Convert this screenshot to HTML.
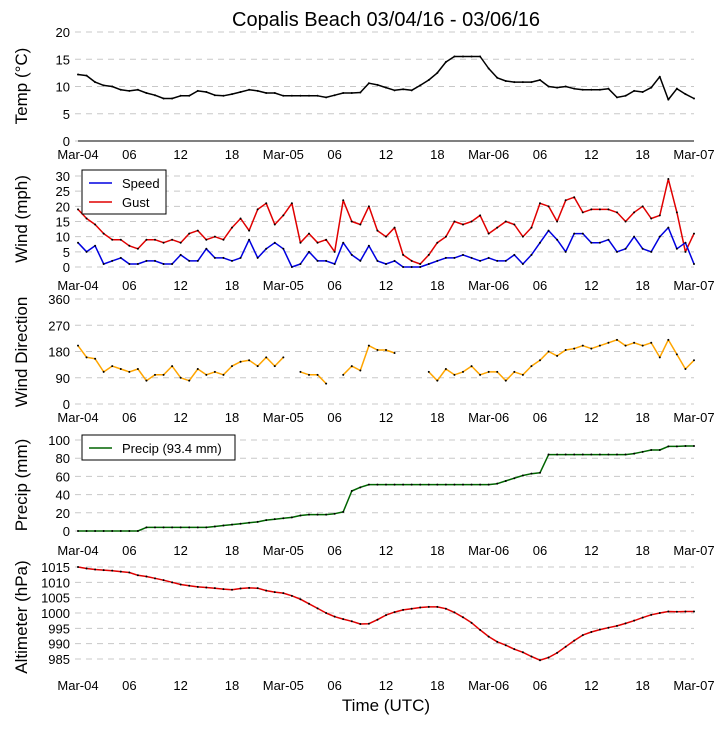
<!DOCTYPE html>
<html><head><meta charset="utf-8"><style>
body{margin:0;background:#fff;}
svg text{font-family:"Liberation Sans","DejaVu Sans",sans-serif;fill:#000;}
</style></head><body>
<svg id="c" width="726" height="725" xmlns="http://www.w3.org/2000/svg"></svg>
<script>
const xTickLabels=["Mar-04","06","12","18","Mar-05","06","12","18","Mar-06","06","12","18","Mar-07"];
const temp=[12.2,12,10.8,10.2,10,9.4,9.2,9.4,8.8,8.4,7.8,7.8,8.3,8.3,9.2,9.0,8.4,8.3,8.6,9.0,9.4,9.2,8.8,8.8,8.3,8.3,8.3,8.3,8.3,8.0,8.4,8.8,8.8,8.9,10.6,10.3,9.8,9.3,9.5,9.3,10.2,11.2,12.5,14.5,15.5,15.5,15.5,15.5,13.3,11.6,11.0,10.8,10.8,10.8,11.2,10.0,9.8,10.0,9.6,9.4,9.4,9.4,9.6,8.0,8.3,9.2,9.0,9.8,11.8,7.6,9.6,8.6,7.8];
const gust=[19,16,14,11,9,9,7,6,9,9,8,9,8,11,12,9,10,9,13,16,12,19,21,14,17,21,8,11,8,9,5,22,15,14,20,12,10,13,4,2,1,4,8,10,15,14,15,17,11,13,15,14,10,13,21,20,15,22,23,18,19,19,19,18,15,18,20,16,17,29,18,5,11];
const speed=[8,5,7,1,2,3,1,1,2,2,1,1,4,2,2,6,3,3,2,3,9,3,6,8,6,0,1,5,2,2,1,8,4,2,7,2,1,2,0,0,0,1,2,3,3,4,3,2,3,2,2,4,1,4,8,12,9,5,11,11,8,8,9,5,6,10,6,5,10,13,6,8,1];
const dir=[200,160,155,110,130,120,110,120,80,100,100,130,90,80,120,100,110,100,130,145,150,130,160,130,160,null,110,100,100,70,null,100,130,115,200,185,185,175,null,null,null,110,80,120,100,110,130,100,110,110,80,110,100,130,150,180,165,185,190,200,190,200,210,220,200,210,200,210,160,220,170,120,150];
const precip=[0,0,0,0,0,0,0,0,4,4,4,4,4,4,4,4,5,6,7,8,9,10,12,13,14,15,17,18,18,18,19,21,44,48,51,51,51,51,51,51,51,51,51,51,51,51,51,51,51,52,55,58,61,63,64,84,84,84,84,84,84,84,84,84,84,85,87,89,89,93,93,93.4,93.4];
const altim=[1015,1014.5,1014.2,1014,1013.8,1013.5,1013.2,1012.3,1011.9,1011.3,1010.7,1010,1009.3,1008.9,1008.5,1008.3,1008.1,1007.8,1007.6,1008,1008.2,1008.1,1007.3,1006.8,1006.5,1005.6,1004.5,1003,1001.5,1000,998.8,998,997.3,996.4,996.5,997.8,999.3,1000.3,1001,1001.4,1001.8,1002,1002,1001.4,1000.2,998.6,996.8,994.5,992.3,990.6,989.5,988.2,987.2,985.8,984.6,985.5,987,989,991,992.8,993.8,994.6,995.2,995.8,996.6,997.5,998.5,999.4,1000,1000.5,1000.4,1000.5,1000.5];
const tempTicks=[0,5,10,15,20];
const windTicks=[0,5,10,15,20,25,30];
const dirTicks=[0,90,180,270,360];
const precipTicks=[0,20,40,60,80,100];
const altTicks=[985,990,995,1000,1005,1010,1015];

const svg=document.getElementById('c');
const NS='http://www.w3.org/2000/svg';
function mk(tag,attrs,parent){const e=document.createElementNS(NS,tag);for(const k in attrs)e.setAttribute(k,attrs[k]);(parent||svg).appendChild(e);return e;}
const X0=78,X1=694;
function xs(h){return X0+(X1-X0)*h/72;}
function lin(v0,p0,v1,p1){return v=>p0+(v-v0)*(p1-p0)/(v1-v0);}

function panel(name,ys,ticks,tickFmt,labelY,title,titleY,series,spine){
  const g=mk('g',{});
  
  
  ticks.forEach(t=>{
    const y=ys(t);
    const l=mk('line',{x1:75,x2:X1,y1:y,y2:y,stroke:'#c8c8c8','stroke-dasharray':'6,5','stroke-width':1},g);
    
    
    const tx=mk('text',{x:70,y:y+5,'text-anchor':'end','font-size':13},g);
    tx.textContent=tickFmt(t);
    
    
  });
  if(spine){const s=mk('line',{x1:X0,x2:X1,y1:ys(0),y2:ys(0),stroke:'#000','stroke-width':1},g);
    }
  xTickLabels.forEach((lab,i)=>{
    const tx=mk('text',{x:xs(i*6),y:labelY,'text-anchor':'middle','font-size':13},g);
    tx.textContent=lab;
    
    
  });
  const yt=mk('text',{x:0,y:0,'text-anchor':'middle','font-size':17,transform:'translate(27,'+titleY+') rotate(-90)'},g);
  yt.textContent=title;
  
  
  series.forEach(s=>{
    let d='';let pen=false;
    s.data.forEach((v,i)=>{
      if(v===null){pen=false;return;}
      d+=(pen?'L':'M')+xs(i).toFixed(1)+','+ys(v).toFixed(1);pen=true;
    });
    const p=mk('path',{d:d,fill:'none',stroke:s.color,'stroke-width':1.5,'stroke-linejoin':'round'},g);
    
    
    s.data.forEach((v,i)=>{
      if(v===null)return;
      const c=mk('circle',{cx:xs(i),cy:ys(v),r:1,fill:'#000'},g);
      
      
    });
  });
  return g;
}

const t=mk('text',{x:386,y:26,'text-anchor':'middle','font-size':20});
t.textContent='Copalis Beach 03/04/16 - 03/06/16';



panel('temp',lin(0,141,20,32),tempTicks,String,159,'Temp (\u00B0C)',86,[{data:temp,color:'#000',name:'temp-line'}],true);
panel('wind',lin(0,267,30,176),windTicks,String,290,'Wind (mph)',219,[{data:gust,color:'#e00000',name:'gust-line'},{data:speed,color:'#0000e0',name:'speed-line'}],false);
panel('direction',lin(0,404,360,299),dirTicks,String,422,'Wind Direction',352,[{data:dir,color:'#ffa500',name:'direction-line'}],false);
panel('precip',lin(0,531,100,440),precipTicks,String,555,'Precip (mm)',485,[{data:precip,color:'#006400',name:'precip-line'}],false);
panel('altimeter',lin(985,659,1015,567),altTicks,String,690,'Altimeter (hPa)',617,[{data:altim,color:'#e00000',name:'altimeter-line'}],false);

// legends
function legend(name,x,y,w,entries){
  const g=mk('g',{});
  
  
  mk('rect',{x:x,y:y,width:w,height:entries.length*19+6,fill:'#fff',stroke:'#000','stroke-width':1},g);
  entries.forEach((e,i)=>{
    const yy=y+13+i*19;
    const l=mk('line',{x1:x+7,x2:x+30,y1:yy,y2:yy,stroke:e.color,'stroke-width':1.5},g);
    
    
    const tx=mk('text',{x:x+40,y:yy+5,'font-size':13},g);
    tx.textContent=e.label;
    
    
  });
}
legend('wind-legend',82,170,84,[{color:'#0000e0',label:'Speed'},{color:'#e00000',label:'Gust'}]);
legend('precip-legend',82,435,153,[{color:'#006400',label:'Precip (93.4 mm)'}]);

const xt=mk('text',{x:386,y:711,'text-anchor':'middle','font-size':17});
xt.textContent='Time (UTC)';


</script>
</body></html>
